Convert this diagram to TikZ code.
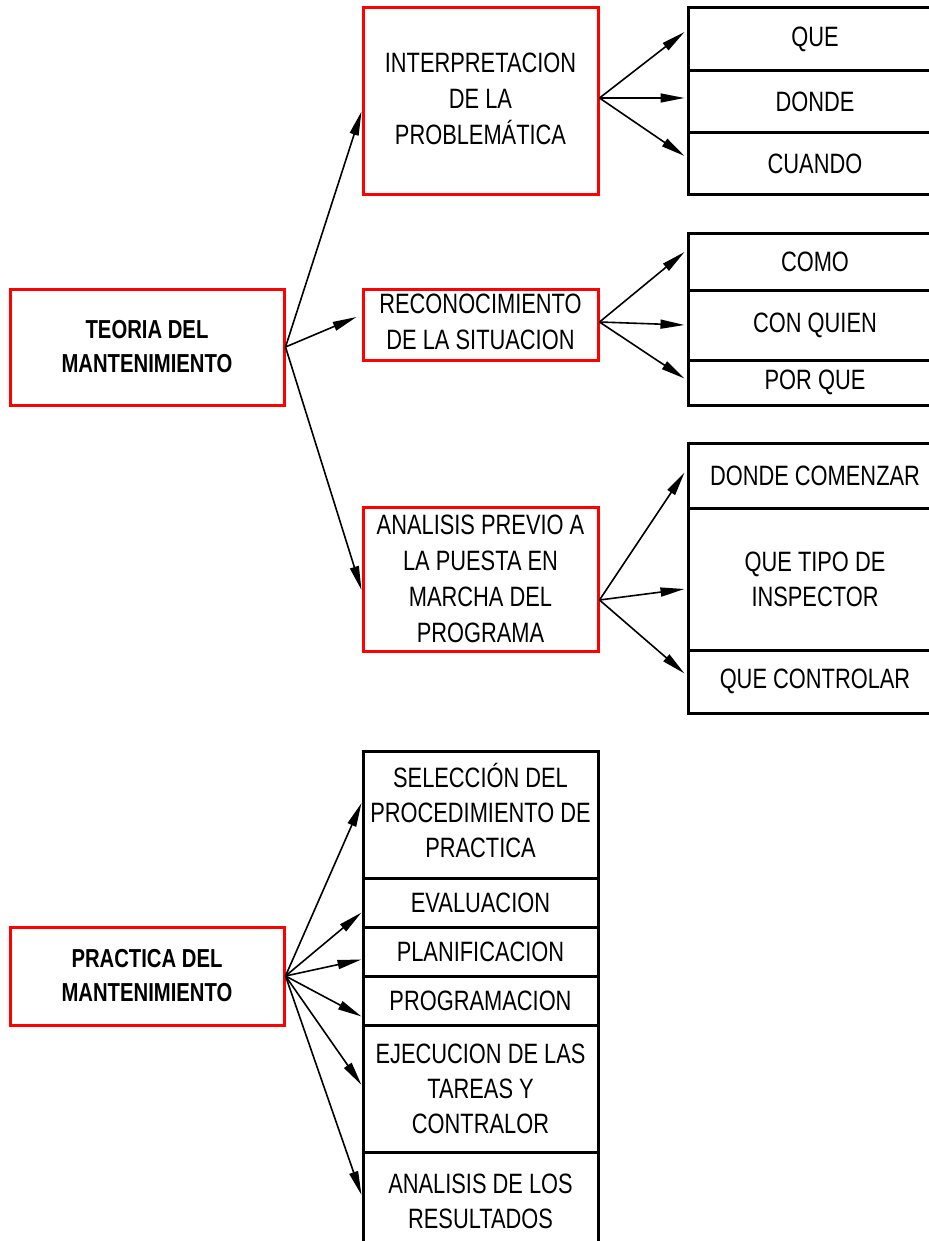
\documentclass[tikz,border=0pt]{standalone}
\usepackage{fontspec}
\setmainfont{Liberation Sans}[FakeStretch=0.78]
\usetikzlibrary{arrows.meta}

\begin{document}
\begin{tikzpicture}[x=0.5pt,y=-0.5pt,
  caja/.style={draw=red,line width=1.5pt,align=center,inner sep=0pt,
    font=\fontsize{14}{18}\selectfont},
  tema/.style={caja,font=\fontsize{13}{17}\selectfont\bfseries},
  celda/.style={draw=black,line width=1.5pt,align=center,inner sep=0pt,
    font=\fontsize{14}{17.5}\selectfont},
  flecha/.style={line width=0.8pt,-{Triangle[length=12pt,width=4.5pt]}}]
 \useasboundingbox (0,0) rectangle (929,1241);
 \node[tema,minimum width=137pt,minimum height=58pt] (teoria) at (147,347) {TEORIA DEL\\MANTENIMIENTO};
 \node[tema,minimum width=137pt,minimum height=49pt] (practica) at (147,976) {PRACTICA DEL\\MANTENIMIENTO};
 \node[caja,minimum width=117.5pt,minimum height=93.5pt] (interp) at (480.5,101.5) {INTERPRETACION\\DE LA\\PROBLEMÁTICA\vspace*{3pt}};
 \node[caja,minimum width=117.5pt,minimum height=35.5pt] (recon) at (480.5,324.5) {RECONOCIMIENTO\\DE LA SITUACION\vspace*{3pt}};
 \node[caja,minimum width=117.5pt,minimum height=72pt] (previo) at (480.5,579) {ANALISIS PREVIO A\\LA PUESTA EN\\MARCHA DEL\\PROGRAMA};
 \foreach \n/\y/\h/\txt in {que/39.5/31.5/{QUE},donde/102/31/{DONDE},cuando/164/31/{CUANDO},
   como/262/28/{COMO},conquien/325/35/{CON QUIEN},porque/382.5/22.5/{POR QUE},
   comenzar/475.5/32.5/{DONDE COMENZAR},tipo/579/71/{QUE TIPO DE\\INSPECTOR},controlar/681.5/31.5/{QUE CONTROLAR}}
   \node[celda,minimum width=127pt,minimum height=\h pt] (\n) at (815,\y) {\txt};
 \foreach \n/\y/\h/\txt in {seleccion/814.5/63.5/{SELECCIÓN DEL\\PROCEDIMIENTO DE\\PRACTICA\vspace*{4pt}},evaluacion/902.5/24.5/{EVALUACION},
   planif/951.5/24.5/{PLANIFICACION},program/1000.5/24.5/{PROGRAMACION},
   ejecucion/1088.5/63.5/{EJECUCION DE LAS\\TAREAS Y\\CONTRALOR},resultados/1201/49/{ANALISIS DE LOS\\RESULTADOS}}
   \node[celda,minimum width=117.5pt,minimum height=\h pt] (\n) at (480.5,\y) {\txt};
 \draw[flecha] (teoria.east) -- ([yshift=-5pt]interp.west);
 \draw[flecha] (teoria.east) -- ([xshift=-2.5pt,yshift=3.75pt]recon.west);
 \draw[flecha] (teoria.east) -- ([yshift=-5.5pt]previo.west);
 \foreach \t/\s in {que/3.75,donde/2,cuando/4}
   \draw[flecha] ([yshift=1.75pt]interp.east) -- ([xshift=-1pt,yshift=\s pt]\t.west);
 \foreach \t/\s in {como/5,conquien/0,porque/2}
   \draw[flecha] ([yshift=1.25pt]recon.east) -- ([xshift=-1pt,yshift=\s pt]\t.west);
 \foreach \t/\s in {comenzar/1.5,tipo/-5,controlar/4}
   \draw[flecha] ([yshift=-10.5pt]previo.east) -- ([xshift=-1pt,yshift=\s pt]\t.west);
 \foreach \t/\s in {seleccion/5.75,evaluacion/-5,planif/-4,program/-8,ejecucion/1.75,resultados/3}
   \draw[flecha] (practica.east) -- ([yshift=\s pt]\t.west);
\end{tikzpicture}
\end{document}
